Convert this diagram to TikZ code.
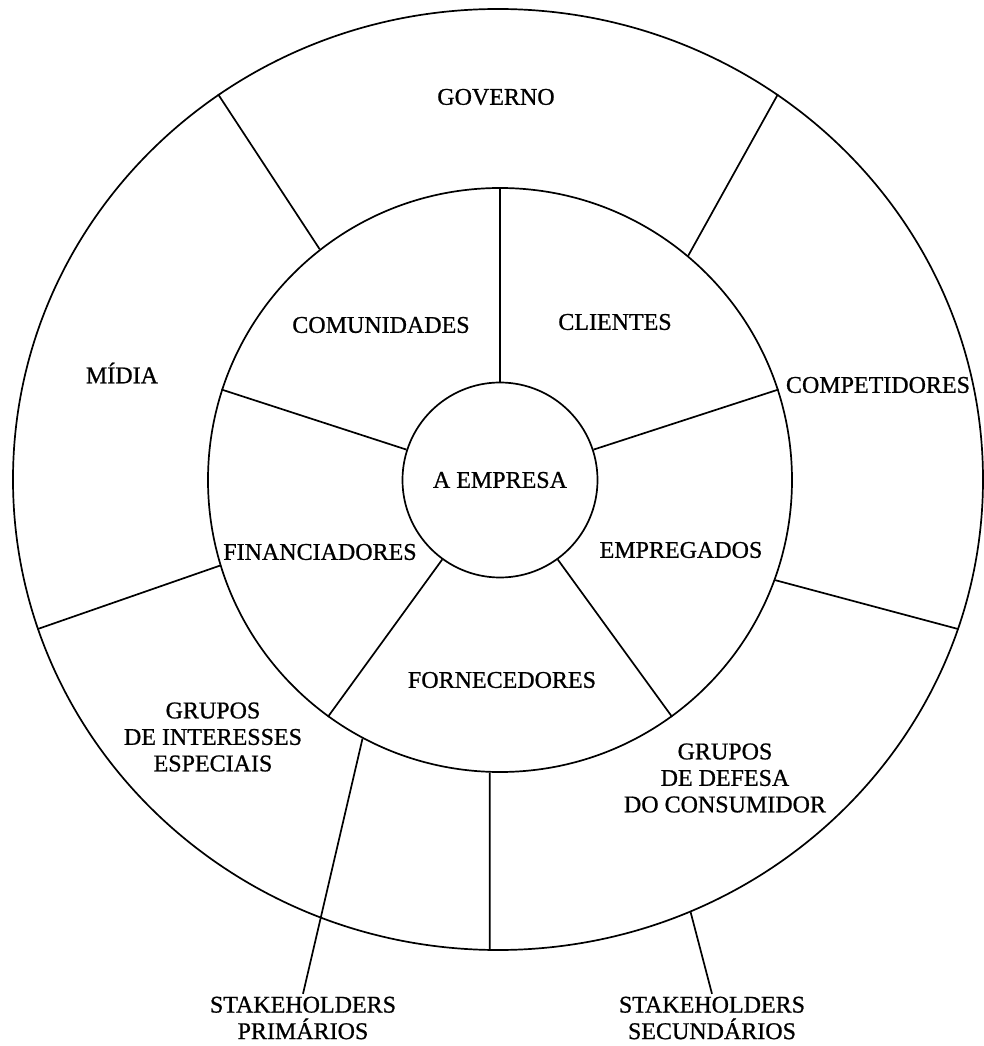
\documentclass[tikz,border=0pt]{standalone}
\usepackage{fontspec}
\setmainfont{Liberation Serif}[FakeBold=0.8]
\usetikzlibrary{shapes.geometric}
\begin{document}
\begin{tikzpicture}[x=1pt,y=1pt,line width=1.7pt]
\tikzstyle{every node}=[font=\fontsize{24}{26.5}\selectfont,align=center,inner sep=2pt]
\tikzstyle{anel}=[draw,circle,inner sep=0pt]
\useasboundingbox (-500,-566) rectangle (484,480);
\node[draw,ellipse,minimum width=970pt,minimum height=941pt,inner sep=0pt] (externo) at (-2,0.5) {};
\node[anel,minimum size=584pt] (interno) at (0,0) {};
\node[anel,minimum size=195pt] (empresa) at (0,0) {A EMPRESA};
\foreach \a in {18,90,162,234,306}
  \draw (empresa.\a) -- (interno.\a);
\foreach \a/\b in {128/126,50/54,340/342,197/198,268/269}
  \draw (interno.\a) -- (externo.\b);
\node (governo) at (-4,383) {GOVERNO};
\node (midia) at (-378,107) {MÍDIA};
\node (competidores) at (378,95) {COMPETIDORES};
\node (comunidades) at (-119,155) {COMUNIDADES};
\node (clientes) at (115,158) {CLIENTES};
\node (financiadores) at (-180,-72) {FINANCIADORES};
\node (empregados) at (181,-70) {EMPREGADOS};
\node (fornecedores) at (2,-200) {FORNECEDORES};
\node (interesses) at (-287,-257) {GRUPOS\\DE INTERESSES\\ESPECIAIS};
\node (defesa) at (225,-298) {GRUPOS\\DE DEFESA\\DO CONSUMIDOR};
\node (prim) at (-197,-538) {STAKEHOLDERS\\PRIMÁRIOS};
\node (sec) at (212,-538) {STAKEHOLDERS\\SECUNDÁRIOS};
\draw (interno.242) -- (prim.north);
\draw (externo.294) -- (sec.north);
\end{tikzpicture}
\end{document}
